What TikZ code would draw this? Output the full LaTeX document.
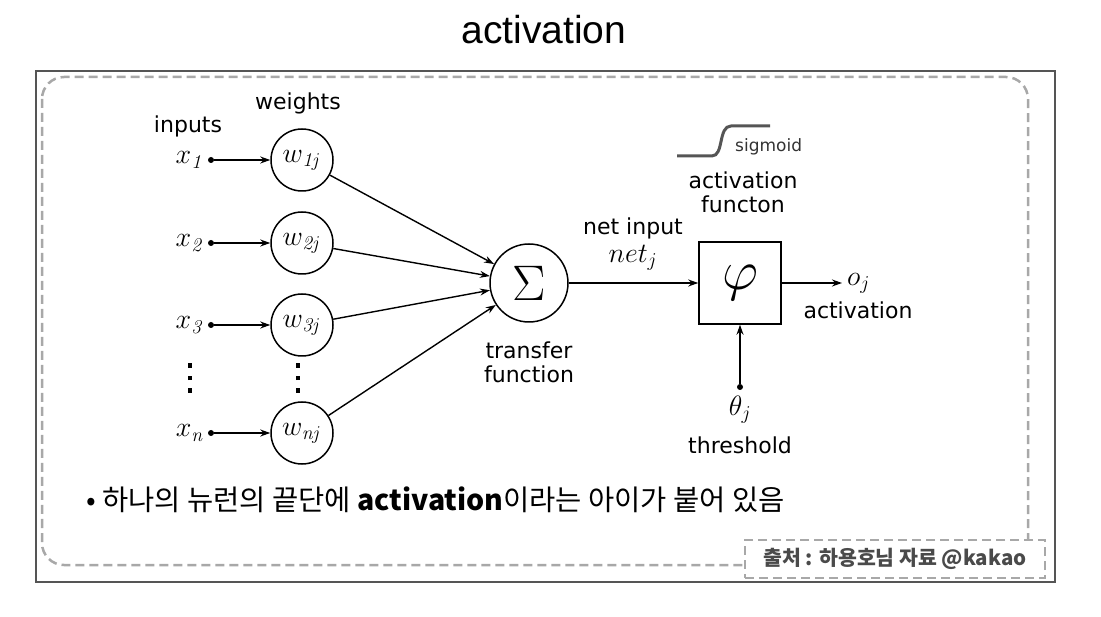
\RequirePackage{fix-cm}
\documentclass[tikz,border=0pt]{standalone}
\usepackage[no-math]{fontspec}
\setmainfont{DejaVu Sans}
\newfontfamily\titlefont{Liberation Sans}
\newfontfamily\krfont{Noto Sans CJK KR}
\usetikzlibrary{arrows.meta}
\definecolor{framegray}{HTML}{555555}
\definecolor{dashgray}{HTML}{A8A8A8}
\definecolor{srcgray}{HTML}{4A4A4A}
\newcommand*{\dotbit}{\hbox{\rule{4pt}{4.5pt}}}
\newcommand*{\stackdots}{\vbox{\offinterlineskip\dotbit\vskip8pt\dotbit\vskip8pt\dotbit}}

\begin{document}
\begin{tikzpicture}[x=1pt, y=-1pt,
    word/.style={font=\fontsize{22}{24}\selectfont, align=center, inner sep=0pt},
    sym/.style={font=\fontsize{28}{30}\selectfont, inner sep=0pt},
    unit/.style={circle, draw, line width=1.5pt, minimum size=62pt, inner sep=0pt,
      font=\fontsize{28}{30}\selectfont},
    feed/.style={-{Stealth[length=10pt,width=7pt]}, line width=1.4pt},
    dot/.style={circle, fill, inner sep=0pt, minimum size=6pt},
    dashline/.style={dashgray, line width=2.5pt, dash pattern=on 9pt off 5pt}]
  \useasboundingbox (0,0) rectangle (1101,617);

  \node[font=\titlefont\fontsize{39}{40}\selectfont] (title) at (544,30) {activation};

  \draw[framegray, line width=1.2pt] (36,71) rectangle (1055,582);
  \draw[dashline, rounded corners=22pt] (42,77) rectangle (1028,565);
  \node[dashline, draw, fill=white, minimum width=300pt, minimum height=38pt,
    text=srcgray, font=\krfont\bfseries\fontsize{20.5}{22}\selectfont] (source) at (895,559)
    {출처 : 하용호님 자료 @kakao};

  \node[word] (inputs) at (188,126) {inputs};
  \node[word] (weights) at (298,103) {weights};

  \node[unit, minimum size=78pt, font=\fontsize{50}{52}\selectfont] (sum) at (529,283) {$\Sigma$};

  \foreach \i/\y in {1/160, 2/243, 3/325, n/433}
  {
    \node[sym] (x\i) at (190,\y) {$x_{\mathit{\i}}$};
    \node[dot] (d\i) at (211,\y) {};
    \node[unit] (w\i) at (302,\y) {$w_{\mathit{\i j}}$};
    \draw[feed] (d\i) -- (w\i);
    \draw[feed] (w\i) -- (sum);
  }

  \node[inner sep=0pt] (xdots) at (190,378) {\stackdots};
  \node[inner sep=0pt] (wdots) at (298,378) {\stackdots};

  \node[word] (transfer) at (529,362) {transfer\\function};
  \node[word] (netinput) at (633,228) {net input};
  \node[sym] (net) at (633,258) {$net_j$};

  \node[draw, line width=1.5pt, minimum size=82pt, inner sep=0pt,
    font=\fontsize{56}{58}\selectfont] (phi) at (740,283) {$\varphi$};
  \draw[feed] (sum) -- (phi);

  \coordinate (out) at (842,283);
  \draw[feed] (phi) -- (out);
  \node[sym, anchor=west] (oj) at (847,283) {$o_j$};
  \node[word] (activation) at (858,310) {activation};

  \node[dot] (thr) at (740,387) {};
  \draw[feed] (thr) -- (phi);
  \node[sym] (theta) at (740,410) {$\theta_j$};
  \node[word] (threshold) at (740,445) {threshold};

  \draw[framegray, line width=3pt] (677,156) -- (712,156)
    .. controls (724,156) and (718,126) .. (731,126) -- (770,126);
  \node[word, anchor=west, font=\fontsize{17}{19}\selectfont, text=black!80] (sigmoid) at (735,147) {sigmoid};
  \node[word] (actfn) at (743,192) {activation\\functon};

  \node[anchor=west, inner sep=0pt, font=\krfont\fontsize{28.5}{30}\selectfont] (note) at (86,500)
    {• 하나의 뉴런의 끝단에 \textbf{activation}이라는 아이가 붙어 있음};
\end{tikzpicture}
\end{document}
